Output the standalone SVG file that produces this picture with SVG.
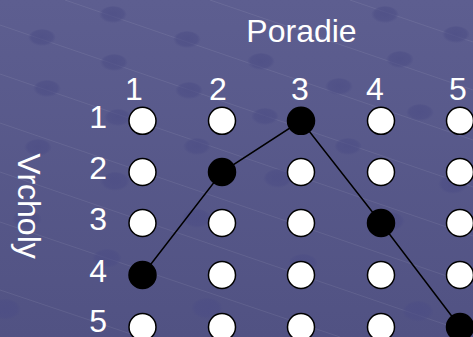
<svg xmlns="http://www.w3.org/2000/svg" width="473" height="337" viewBox="0 0 473 337">
  <defs>
    <linearGradient id="bg" x1="0" y1="0" x2="0" y2="1">
      <stop offset="0" stop-color="#5d5e90"/>
      <stop offset="1" stop-color="#515283"/>
    </linearGradient>
    <radialGradient id="dimple" cx="0.5" cy="0.45" r="0.5">
      <stop offset="0" stop-color="#4c4d85" stop-opacity="0.7"/>
      <stop offset="0.75" stop-color="#4c4d85" stop-opacity="0.55"/>
      <stop offset="1" stop-color="#4c4d85" stop-opacity="0"/>
    </radialGradient>
  </defs>
  <style>
    .lbl { font-family: "Liberation Sans", Arial, sans-serif; font-size: 32px; fill: #ffffff; }
    .num { text-anchor: middle; }
    .row { text-anchor: end; }
    .tex { stroke: #ffffff; stroke-opacity: 0.08; stroke-width: 1; fill: none; }
    .dim { fill: url(#dimple); }
    .w { fill: #ffffff; stroke: #000000; stroke-width: 1.5; }
    .b { fill: #000000; stroke: #000000; stroke-width: 1.5; }
    .edge { stroke: #000000; stroke-width: 1.5; fill: none; }
  </style>

  <g id="background">
    <rect x="0" y="0" width="473" height="337" fill="url(#bg)"/>
    <g class="tex">
      <line x1="0" y1="25" x2="473" y2="187"/>
      <line x1="0" y1="74" x2="473" y2="236"/>
      <line x1="0" y1="123" x2="473" y2="285"/>
      <line x1="0" y1="172" x2="473" y2="334"/>
      <line x1="0" y1="222" x2="340" y2="337"/>
      <line x1="0" y1="290" x2="140" y2="337"/>
      <line x1="65" y1="0" x2="473" y2="140"/>
      <line x1="210" y1="0" x2="473" y2="90"/>
      <line x1="350" y1="0" x2="473" y2="42"/>
    </g>
    <g>
      <ellipse class="dim" cx="113" cy="15" rx="14" ry="9"/>
      <ellipse class="dim" cx="42" cy="38" rx="14" ry="9"/>
      <ellipse class="dim" cx="187" cy="40" rx="14" ry="9"/>
      <ellipse class="dim" cx="114" cy="63" rx="14" ry="9"/>
      <ellipse class="dim" cx="47" cy="89" rx="14" ry="9"/>
      <ellipse class="dim" cx="189" cy="91" rx="14" ry="9"/>
      <ellipse class="dim" cx="118" cy="118" rx="14" ry="9"/>
      <ellipse class="dim" cx="38" cy="148" rx="14" ry="9"/>
      <ellipse class="dim" cx="197" cy="147" rx="14" ry="9"/>
      <ellipse class="dim" cx="385" cy="15" rx="14" ry="9"/>
      <ellipse class="dim" cx="261" cy="62" rx="14" ry="9"/>
      <ellipse class="dim" cx="456" cy="35" rx="14" ry="9"/>
      <ellipse class="dim" cx="400" cy="60" rx="14" ry="9"/>
      <ellipse class="dim" cx="339" cy="87" rx="14" ry="9"/>
      <ellipse class="dim" cx="265" cy="117" rx="14" ry="9"/>
      <ellipse class="dim" cx="420" cy="113" rx="14" ry="9"/>
      <ellipse class="dim" cx="348" cy="147" rx="14" ry="9"/>
      <ellipse class="dim" cx="115" cy="182" rx="15" ry="10"/>
      <ellipse class="dim" cx="27" cy="220" rx="15" ry="10"/>
      <ellipse class="dim" cx="197" cy="219" rx="15" ry="10"/>
      <ellipse class="dim" cx="107" cy="259" rx="15" ry="10"/>
      <ellipse class="dim" cx="5" cy="310" rx="16" ry="11"/>
      <ellipse class="dim" cx="207" cy="309" rx="16" ry="11"/>
      <ellipse class="dim" cx="278" cy="179" rx="15" ry="10"/>
      <ellipse class="dim" cx="453" cy="185" rx="15" ry="10"/>
      <ellipse class="dim" cx="390" cy="222" rx="15" ry="10"/>
      <ellipse class="dim" cx="303" cy="264" rx="15" ry="10"/>
      <ellipse class="dim" cx="418" cy="312" rx="16" ry="11"/>
    </g>
  </g>

  <g id="titles">
    <text class="lbl num" x="301.5" y="42">Poradie</text>
    <text class="lbl num" transform="translate(18,206) rotate(90)" x="0" y="0">Vrcholy</text>
  </g>

  <g id="column-labels">
    <text class="lbl num" x="134" y="100">1</text>
    <text class="lbl num" x="218" y="100">2</text>
    <text class="lbl num" x="300" y="100">3</text>
    <text class="lbl num" x="375" y="100">4</text>
    <text class="lbl num" x="458" y="100">5</text>
  </g>

  <g id="row-labels">
    <text class="lbl row" x="107" y="128">1</text>
    <text class="lbl row" x="107" y="179">2</text>
    <text class="lbl row" x="107" y="230">3</text>
    <text class="lbl row" x="107" y="282">4</text>
    <text class="lbl row" x="107" y="331.5">5</text>
  </g>

  <g id="connectors">
    <polyline class="edge" points="142.5,275 222,172 301,120.8 381,223 460,327"/>
  </g>

  <g id="nodes">
    <g id="n-1-1"><circle class="w" cx="142.5" cy="120.8" r="13.5"/></g>
    <g id="n-1-2"><circle class="w" cx="222" cy="120.8" r="13.5"/></g>
    <g id="n-1-3"><circle class="b" cx="301" cy="120.8" r="13.5"/></g>
    <g id="n-1-4"><circle class="w" cx="381" cy="120.8" r="13.5"/></g>
    <g id="n-1-5"><circle class="w" cx="460" cy="120.8" r="13.5"/></g>

    <g id="n-2-1"><circle class="w" cx="142.5" cy="172" r="13.5"/></g>
    <g id="n-2-2"><circle class="b" cx="222" cy="172" r="13.5"/></g>
    <g id="n-2-3"><circle class="w" cx="301" cy="172" r="13.5"/></g>
    <g id="n-2-4"><circle class="w" cx="381" cy="172" r="13.5"/></g>
    <g id="n-2-5"><circle class="w" cx="460" cy="172" r="13.5"/></g>

    <g id="n-3-1"><circle class="w" cx="142.5" cy="223" r="13.5"/></g>
    <g id="n-3-2"><circle class="w" cx="222" cy="223" r="13.5"/></g>
    <g id="n-3-3"><circle class="w" cx="301" cy="223" r="13.5"/></g>
    <g id="n-3-4"><circle class="b" cx="381" cy="223" r="13.5"/></g>
    <g id="n-3-5"><circle class="w" cx="460" cy="223" r="13.5"/></g>

    <g id="n-4-1"><circle class="b" cx="142.5" cy="275" r="13.5"/></g>
    <g id="n-4-2"><circle class="w" cx="222" cy="275" r="13.5"/></g>
    <g id="n-4-3"><circle class="w" cx="301" cy="275" r="13.5"/></g>
    <g id="n-4-4"><circle class="w" cx="381" cy="275" r="13.5"/></g>
    <g id="n-4-5"><circle class="w" cx="460" cy="275" r="13.5"/></g>

    <g id="n-5-1"><circle class="w" cx="142.5" cy="327" r="13.5"/></g>
    <g id="n-5-2"><circle class="w" cx="222" cy="327" r="13.5"/></g>
    <g id="n-5-3"><circle class="w" cx="301" cy="327" r="13.5"/></g>
    <g id="n-5-4"><circle class="w" cx="381" cy="327" r="13.5"/></g>
    <g id="n-5-5"><circle class="b" cx="460" cy="327" r="13.5"/></g>
  </g>
</svg>
